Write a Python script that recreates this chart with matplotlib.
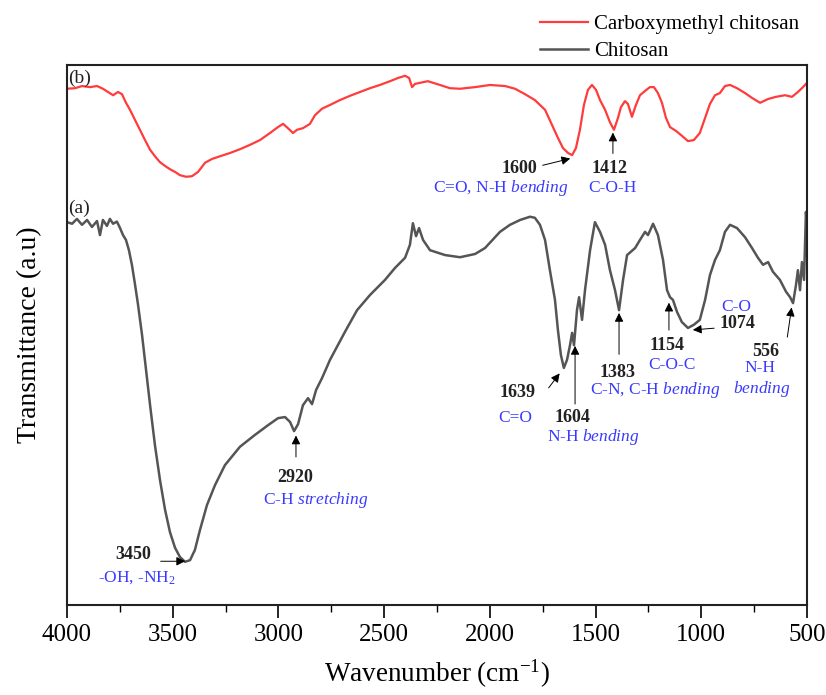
import numpy as np
import matplotlib
matplotlib.use('Agg')
import matplotlib.pyplot as plt
from matplotlib.ticker import MultipleLocator

plt.rcParams['font.family'] = ['Liberation Serif', 'DejaVu Serif']
plt.rcParams['mathtext.fontset'] = 'custom'
plt.rcParams['mathtext.rm'] = 'Liberation Serif'
plt.rcParams['mathtext.it'] = 'Liberation Serif:italic'

# chitosan (a): wavenumber (cm-1), transmittance (a.u.)
wn_cs = [4000, 3976, 3953, 3929, 3905, 3882, 3858, 3844, 3830, 3811, 3797, 3782, 3764, 3749,
         3735, 3721, 3707, 3693, 3678, 3664, 3645, 3626, 3607, 3584, 3560, 3536, 3513, 3489,
         3466, 3442, 3418, 3395, 3371, 3338, 3300, 3253, 3182, 3111, 3049, 3002, 2969, 2945,
         2926, 2907, 2884, 2860, 2841, 2822, 2794, 2756, 2685, 2628, 2567, 2496, 2449, 2401,
         2378, 2364, 2349, 2335, 2316, 2283, 2212, 2141, 2070, 2023, 1952, 1905, 1857, 1810,
         1787, 1763, 1739, 1716, 1692, 1678, 1664, 1650, 1635, 1621, 1611, 1602, 1588, 1578,
         1564, 1550, 1526, 1503, 1479, 1455, 1432, 1408, 1389, 1370, 1351, 1313, 1290, 1266,
         1252, 1228, 1205, 1181, 1162, 1148, 1134, 1115, 1092, 1063, 1035, 1007, 982, 959,
         935, 912, 888, 864, 831, 793, 760, 732, 708, 684, 661, 628, 599, 580, 566, 552,
         543, 533, 524, 514, 505, 500]
t_cs = [70.9, 70.6, 71.5, 70.4, 71.3, 70.0, 71.1, 68.5, 71.3, 70.2, 71.5, 70.6, 71.0, 69.8,
        68.5, 67.6, 65.7, 63.0, 59.3, 55.6, 50.0, 43.5, 37.0, 29.6, 23.1, 17.6, 13.5, 10.6,
        8.9, 8.0, 8.3, 10.2, 13.9, 18.5, 22.2, 25.9, 29.3, 31.5, 33.3, 34.6, 34.8, 33.9,
        32.2, 33.5, 37.0, 38.3, 37.2, 39.8, 42.0, 45.4, 50.6, 54.6, 57.4, 60.2, 62.4, 64.3,
        66.7, 70.7, 68.3, 69.8, 67.6, 65.7, 64.8, 64.4, 65.0, 66.1, 69.1, 70.4, 71.3, 71.9,
        71.7, 70.4, 67.6, 62.0, 56.5, 50.9, 46.3, 43.9, 45.4, 48.1, 50.4, 48.1, 54.6, 57.0,
        52.8, 58.3, 65.7, 70.9, 69.1, 66.7, 62.0, 58.3, 54.6, 60.2, 64.8, 66.1, 67.6, 69.1,
        68.5, 70.6, 68.5, 63.9, 58.3, 57.0, 56.5, 54.3, 52.4, 51.3, 51.9, 52.8, 56.5, 61.1,
        63.9, 65.7, 69.1, 70.4, 69.8, 68.1, 66.1, 64.3, 63.0, 63.5, 61.7, 60.2, 58.0, 57.0,
        55.9, 59.3, 62.0, 58.3, 63.5, 60.2, 72.8, 69.4]

# carboxymethyl chitosan (b)
wn_cmc = [4000, 3962, 3929, 3891, 3858, 3830, 3806, 3782, 3759, 3740, 3721, 3702, 3678, 3655,
          3631, 3607, 3584, 3560, 3536, 3513, 3489, 3466, 3437, 3409, 3380, 3347, 3314, 3276,
          3229, 3182, 3135, 3087, 3040, 3002, 2978, 2955, 2931, 2912, 2884, 2851, 2827, 2794,
          2756, 2709, 2661, 2614, 2567, 2520, 2472, 2434, 2401, 2382, 2368, 2354, 2330, 2293,
          2236, 2189, 2141, 2070, 1999, 1928, 1881, 1834, 1787, 1739, 1706, 1678, 1654, 1630,
          1611, 1593, 1574, 1555, 1536, 1517, 1498, 1479, 1455, 1432, 1413, 1394, 1380, 1361,
          1347, 1328, 1309, 1290, 1266, 1243, 1224, 1205, 1186, 1167, 1148, 1120, 1092, 1063,
          1035, 1007, 982, 959, 935, 912, 888, 864, 831, 793, 760, 722, 684, 647, 604, 571,
          543, 519, 500]
t_cmc = [95.6, 95.7, 96.1, 95.9, 96.1, 95.6, 95.0, 94.4, 95.0, 94.6, 93.0, 91.7, 89.8, 88.0,
         86.1, 84.3, 83.1, 82.0, 81.3, 80.7, 80.2, 79.6, 79.3, 79.4, 80.2, 81.9, 82.6, 83.1,
         83.7, 84.4, 85.2, 86.1, 87.4, 88.5, 89.1, 88.3, 87.4, 88.0, 88.3, 89.1, 90.7, 91.9,
         92.6, 93.5, 94.3, 95.0, 95.7, 96.3, 97.0, 97.6, 98.0, 97.6, 95.9, 96.5, 96.7, 97.0,
         96.3, 95.7, 95.6, 95.9, 96.3, 96.1, 95.6, 94.6, 93.5, 91.7, 88.9, 86.5, 84.6, 83.7,
         83.3, 84.6, 88.0, 92.6, 95.4, 96.3, 95.4, 93.5, 91.7, 89.4, 88.0, 90.2, 92.2, 93.3,
         92.8, 90.4, 92.6, 94.4, 95.2, 95.9, 95.9, 94.8, 93.0, 90.2, 88.5, 87.8, 86.9, 85.9,
         86.1, 87.4, 90.2, 92.8, 94.4, 94.8, 96.1, 96.3, 95.7, 94.8, 93.9, 93.0, 93.7, 94.1,
         94.4, 94.1, 95.0, 95.9, 96.7]

# peak labels: (label, text x, text y, arrow tail, arrow tip)
peaks = [
    ('3450', 3688, 9.3, (3570, 8.1), (3428, 8.1)),
    ('2920', 2922, 23.7, (2917, 26.9), (2917, 31.9)),
    ('1639', 1867, 39.3, (1730, 39.8), (1662, 43.3)),
    ('1604', 1607, 34.8, (1597, 36.7), (1597, 48.5)),
    ('1383', 1394, 43.0, (1389, 45.9), (1389, 54.6)),
    ('1154', 1162, 48.1, (1153, 50.4), (1153, 56.5)),
    ('1074', 831, 52.2, (926, 51.3), (1053, 50.9)),
    ('556', 694, 47.0, (595, 49.1), (571, 55.6)),
    ('1600', 1862, 80.9, (1763, 81.3), (1607, 82.8)),
    ('1412', 1432, 80.9, (1418, 83.1), (1418, 88.0)),
]
# band assignments: (text, x, y)
bands = [
    ('-OH, -NH$_2$', 3669, 5.0),
    ('C-H $stretching$', 2822, 19.4),
    ('C=O', 1881, 34.6),
    ('N-H $bending$', 1512, 31.1),
    ('C-N, C-H $bending$', 1219, 39.8),
    ('C-O-C', 1139, 44.4),
    ('C-O', 836, 55.2),
    ('N-H', 722, 43.9),
    ('$bending$', 713, 40.0),
    ('C=O, N-H $bending$', 1948, 77.2),
    ('C-O-H', 1418, 77.2),
]

fig = plt.figure(figsize=(8.26, 6.95), dpi=100)
ax = fig.add_axes([0.0811, 0.1295, 0.8959, 0.777])

ax.plot(wn_cmc, t_cmc, color='#ff3b3b', lw=1.6, label='Carboxymethyl chitosan')
ax.plot(wn_cs, t_cs, color='#555555', lw=1.8, label='Chitosan')

for lab, tx, ty, tail, tip in peaks:
    ax.text(tx, ty, lab, ha='center', va='center', fontsize=13, fontweight='bold', color='#222222')
    ax.annotate('', xy=tip, xytext=tail,
                arrowprops=dict(arrowstyle='-|>', color='black', lw=0.7, mutation_scale=13))
for lab, tx, ty in bands:
    ax.text(tx, ty, lab, ha='center', va='center', fontsize=12.5, color='#3a3aff')

ax.text(3995, 97.6, '(b)', ha='left', va='center', fontsize=14, color='#222222')
ax.text(3995, 73.5, '(a)', ha='left', va='center', fontsize=14, color='#222222')

ax.set_xlim(4000, 500)
ax.set_ylim(0, 100)
ax.xaxis.set_major_locator(MultipleLocator(500))
ax.xaxis.set_minor_locator(MultipleLocator(250))
ax.tick_params(axis='x', which='major', direction='out', length=9, width=1.2, labelsize=18, pad=5)
ax.tick_params(axis='x', which='minor', direction='out', length=5, width=1.0)
ax.set_yticks([])
for s in ax.spines.values():
    s.set_linewidth(1.5)
    s.set_color('#222222')

ax.set_xlabel('Wavenumber (cm$^{-1}$)', fontsize=19.5, labelpad=8)
ax.set_ylabel('Transmittance (a.u)', fontsize=20, labelpad=18)

ax.legend(loc='upper right', bbox_to_anchor=(0.985, 1.0), bbox_transform=fig.transFigure,
          frameon=False, fontsize=15, handlelength=2.3, handletextpad=0.3,
          labelspacing=0.35, borderaxespad=0.3)

fig.savefig('out.png', dpi=100)
